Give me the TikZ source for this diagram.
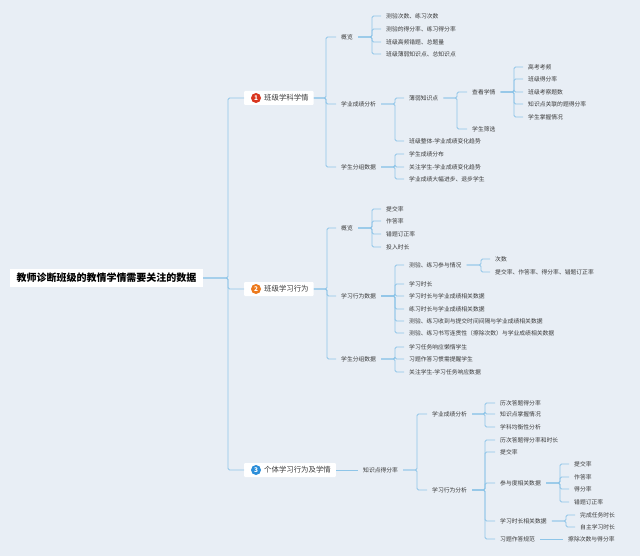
\documentclass[tikz,border=0pt]{standalone}
\usepackage{fontspec}
\setmainfont{Noto Sans CJK SC}
\definecolor{bg}{HTML}{E8EEF5}
\definecolor{linkblue}{HTML}{8EC5E8}
\definecolor{txt}{HTML}{3A3A3A}
\definecolor{numred}{HTML}{D9361F}
\definecolor{numorange}{HTML}{EC7A1E}
\definecolor{numblue}{HTML}{2C8ED9}

\begin{document}
\begin{tikzpicture}[x=1pt, y=-1pt,
  conn/.style={draw=linkblue, line width=0.8pt, rounded corners=1.5pt},
  leaf/.style={anchor=west, inner xsep=5pt, inner ysep=1pt, text=txt, font=\fontsize{5.8}{7}\selectfont},
  branch/.style={anchor=west, fill=white, rounded corners=1pt, minimum height=14pt, inner xsep=5pt, inner ysep=0pt, text=txt, font=\fontsize{7.4}{9}\selectfont},
  numdot/.style={circle, inner sep=0pt, minimum size=10pt, text=white, font=\fontsize{6.5}{7}\selectfont\bfseries},
  rootbox/.style={fill=white, minimum height=18pt, inner xsep=6.5pt, text=black, font=\fontsize{10}{12}\selectfont\bfseries}]
\fill[bg] (0,0) rectangle (640,556);
\useasboundingbox (0,0) rectangle (640,556);

\node[rootbox] (r) at (106.5,278) {教师诊断班级的教情学情需要关注的数据};
\coordinate (rs) at (228,278);

\node[branch] (b1) at (244,98) {\hspace{15pt}班级学科学情};
\node[numdot, fill=numred] at (256,98) {1};
\node[branch] (b2) at (244,289) {\hspace{15pt}班级学习行为};
\node[numdot, fill=numorange] at (256,289) {2};
\node[branch] (b3) at (244,470) {\hspace{15pt}个体学习行为及学情};
\node[numdot, fill=numblue] at (256,470) {3};

\node[leaf] (b1a) at (336,37) {概览};
\node[leaf] (b1b) at (336,104) {学业成绩分析};
\node[leaf] (b1c) at (336,167) {学生分组数据};
\node[leaf] (b1a1) at (381,16) {测验次数、练习次数};
\node[leaf] (b1a2) at (381,29) {测验的得分率、练习得分率};
\node[leaf] (b1a3) at (381,42) {班级高频错题、总题量};
\node[leaf] (b1a4) at (381,54) {班级薄弱知识点、总知识点};
\node[leaf] (b1b1) at (404,98) {薄弱知识点};
\node[leaf] (b1b2) at (404,141) {班级整体-学业成绩变化趋势};
\node[leaf] (b1b11) at (467,92) {查看学情};
\node[leaf] (b1b12) at (467,129) {学生筛选};
\node[leaf] (k1) at (523,67) {高考考频};
\node[leaf] (k2) at (523,79) {班级得分率};
\node[leaf] (k3) at (523,92) {班级考察题数};
\node[leaf] (k4) at (523,104) {知识点关联的题得分率};
\node[leaf] (k5) at (523,117) {学生掌握情况};
\node[leaf] (b1c1) at (404,154) {学生成绩分布};
\node[leaf] (b1c2) at (404,167) {关注学生-学业成绩变化趋势};
\node[leaf] (b1c3) at (404,179) {学业成绩大幅进步、退步学生};

\node[leaf] (b2a) at (336,228) {概览};
\node[leaf] (b2b) at (336,296) {学习行为数据};
\node[leaf] (b2c) at (336,359) {学生分组数据};
\node[leaf] (b2a1) at (381,209) {提交率};
\node[leaf] (b2a2) at (381,221) {作答率};
\node[leaf] (b2a3) at (381,234) {错题订正率};
\node[leaf] (b2a4) at (381,247) {投入时长};
\node[leaf] (b2b1) at (404,265) {测验、练习参与情况};
\node[leaf] (b2b2) at (404,284) {学习时长};
\node[leaf] (b2b3) at (404,296) {学习时长与学业成绩相关数据};
\node[leaf] (b2b4) at (404,309) {练习时长与学业成绩相关数据};
\node[leaf] (b2b5) at (404,321) {测验、练习收到与提交时间间隔与学业成绩相关数据};
\node[leaf] (b2b6) at (404,333) {测验、练习书写连贯性（擦除次数）与学业成绩相关数据};
\node[leaf] (b2b11) at (490,259) {次数};
\node[leaf] (b2b12) at (490,272) {提交率、作答率、得分率、错题订正率};
\node[leaf] (b2c1) at (404,347) {学习任务响应懒惰学生};
\node[leaf] (b2c2) at (404,359) {习题作答习惯需提醒学生};
\node[leaf] (b2c3) at (404,372) {关注学生-学习任务响应数据};

\node[leaf] (b3a) at (358,470) {知识点得分率};
\node[leaf] (b3a1) at (427,414) {学业成绩分析};
\node[leaf] (b3a2) at (427,490) {学习行为分析};
\node[leaf] (b3a11) at (495,403) {历次答题得分率};
\node[leaf] (b3a12) at (495,414) {知识点掌握情况};
\node[leaf] (b3a13) at (495,427) {学科均衡性分析};
\node[leaf] (b3a21) at (495,440) {历次答题得分率和时长};
\node[leaf] (b3a22) at (495,452) {提交率};
\node[leaf] (b3a23) at (495,483) {参与度相关数据};
\node[leaf] (b3a24) at (495,521) {学习时长相关数据};
\node[leaf] (b3a25) at (495,539) {习题作答规范};
\node[leaf] (m1) at (569,464) {提交率};
\node[leaf] (m2) at (569,477) {作答率};
\node[leaf] (m3) at (569,489) {得分率};
\node[leaf] (m4) at (569,502) {错题订正率};
\node[leaf] (n1) at (575,515) {完成任务时长};
\node[leaf] (n2) at (575,527) {自主学习时长};
\node[leaf] (b3a251) at (563,539) {擦除次数与得分率};

\coordinate (b1s) at (326,98);
\coordinate (b1as) at (372,37);
\coordinate (b1bs) at (395,104);
\coordinate (b1b1s) at (457,98);
\coordinate (b1b11s) at (514,92);
\coordinate (b1cs) at (395,167);
\coordinate (b2s) at (327,289);
\coordinate (b2as) at (372,228);
\coordinate (b2bs) at (395,296);
\coordinate (b2b1s) at (481,265);
\coordinate (b2cs) at (395,359);
\coordinate (b3as) at (417,470);
\coordinate (b3a1s) at (485,414);
\coordinate (b3a2s) at (485,490);
\coordinate (b3a23s) at (560,483);
\coordinate (b3a24s) at (566,521);

\draw[conn] (r.east) -- (rs) |- (b1.west);
\draw[conn] (r.east) -- (rs) |- (b2.west);
\draw[conn] (r.east) -- (rs) |- (b3.west);

\draw[conn] (b1.east) -- (b1s) |- (b1a.west);
\draw[conn] (b1.east) -- (b1s) |- (b1b.west);
\draw[conn] (b1.east) -- (b1s) |- (b1c.west);
\draw[conn] (b1a.east) -- (b1as) |- (b1a1.west);
\draw[conn] (b1a.east) -- (b1as) |- (b1a2.west);
\draw[conn] (b1a.east) -- (b1as) |- (b1a3.west);
\draw[conn] (b1a.east) -- (b1as) |- (b1a4.west);
\draw[conn] (b1b.east) -- (b1bs) |- (b1b1.west);
\draw[conn] (b1b.east) -- (b1bs) |- (b1b2.west);
\draw[conn] (b1b1.east) -- (b1b1s) |- (b1b11.west);
\draw[conn] (b1b1.east) -- (b1b1s) |- (b1b12.west);
\draw[conn] (b1b11.east) -- (b1b11s) |- (k1.west);
\draw[conn] (b1b11.east) -- (b1b11s) |- (k2.west);
\draw[conn] (b1b11.east) -- (b1b11s) |- (k3.west);
\draw[conn] (b1b11.east) -- (b1b11s) |- (k4.west);
\draw[conn] (b1b11.east) -- (b1b11s) |- (k5.west);
\draw[conn] (b1c.east) -- (b1cs) |- (b1c1.west);
\draw[conn] (b1c.east) -- (b1cs) |- (b1c2.west);
\draw[conn] (b1c.east) -- (b1cs) |- (b1c3.west);

\draw[conn] (b2.east) -- (b2s) |- (b2a.west);
\draw[conn] (b2.east) -- (b2s) |- (b2b.west);
\draw[conn] (b2.east) -- (b2s) |- (b2c.west);
\draw[conn] (b2a.east) -- (b2as) |- (b2a1.west);
\draw[conn] (b2a.east) -- (b2as) |- (b2a2.west);
\draw[conn] (b2a.east) -- (b2as) |- (b2a3.west);
\draw[conn] (b2a.east) -- (b2as) |- (b2a4.west);
\draw[conn] (b2b.east) -- (b2bs) |- (b2b1.west);
\draw[conn] (b2b.east) -- (b2bs) |- (b2b2.west);
\draw[conn] (b2b.east) -- (b2bs) |- (b2b3.west);
\draw[conn] (b2b.east) -- (b2bs) |- (b2b4.west);
\draw[conn] (b2b.east) -- (b2bs) |- (b2b5.west);
\draw[conn] (b2b.east) -- (b2bs) |- (b2b6.west);
\draw[conn] (b2b1.east) -- (b2b1s) |- (b2b11.west);
\draw[conn] (b2b1.east) -- (b2b1s) |- (b2b12.west);
\draw[conn] (b2c.east) -- (b2cs) |- (b2c1.west);
\draw[conn] (b2c.east) -- (b2cs) |- (b2c2.west);
\draw[conn] (b2c.east) -- (b2cs) |- (b2c3.west);

\draw[conn] (b3.east) -- (b3a.west);
\draw[conn] (b3a.east) -- (b3as) |- (b3a1.west);
\draw[conn] (b3a.east) -- (b3as) |- (b3a2.west);
\draw[conn] (b3a1.east) -- (b3a1s) |- (b3a11.west);
\draw[conn] (b3a1.east) -- (b3a1s) |- (b3a12.west);
\draw[conn] (b3a1.east) -- (b3a1s) |- (b3a13.west);
\draw[conn] (b3a2.east) -- (b3a2s) |- (b3a21.west);
\draw[conn] (b3a2.east) -- (b3a2s) |- (b3a22.west);
\draw[conn] (b3a2.east) -- (b3a2s) |- (b3a23.west);
\draw[conn] (b3a2.east) -- (b3a2s) |- (b3a24.west);
\draw[conn] (b3a2.east) -- (b3a2s) |- (b3a25.west);
\draw[conn] (b3a23.east) -- (b3a23s) |- (m1.west);
\draw[conn] (b3a23.east) -- (b3a23s) |- (m2.west);
\draw[conn] (b3a23.east) -- (b3a23s) |- (m3.west);
\draw[conn] (b3a23.east) -- (b3a23s) |- (m4.west);
\draw[conn] (b3a24.east) -- (b3a24s) |- (n1.west);
\draw[conn] (b3a24.east) -- (b3a24s) |- (n2.west);
\draw[conn] (b3a25.east) -- (b3a251.west);
\end{tikzpicture}
\end{document}
